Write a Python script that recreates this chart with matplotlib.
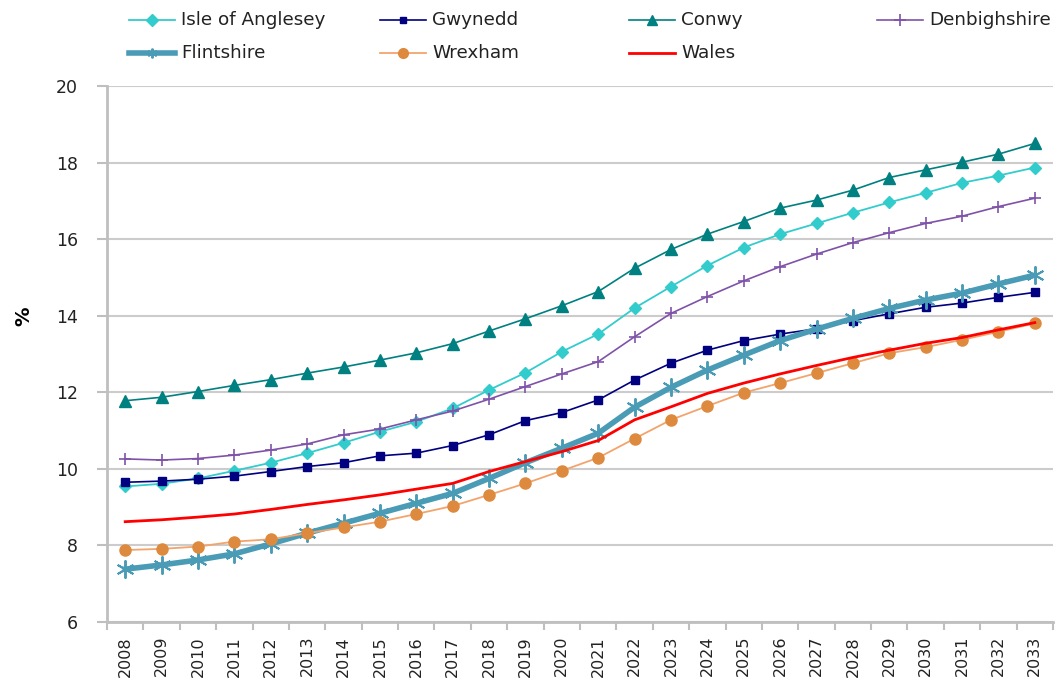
import matplotlib
matplotlib.use("Agg")
import matplotlib.pyplot as plt
from matplotlib.lines import Line2D
import numpy as np

years = [str(y) for y in range(2008, 2034)]

anglesey = [9.54, 9.61, 9.75, 9.95, 10.16, 10.41, 10.68, 10.97, 11.23, 11.58, 12.06, 12.51, 13.06,
            13.52, 14.20, 14.76, 15.31, 15.78, 16.13, 16.41, 16.69, 16.96, 17.21, 17.47, 17.66, 17.87]
gwynedd = [9.65, 9.68, 9.73, 9.81, 9.93, 10.06, 10.16, 10.34, 10.41, 10.61, 10.89, 11.26, 11.47,
           11.80, 12.32, 12.76, 13.10, 13.35, 13.52, 13.66, 13.87, 14.05, 14.22, 14.33, 14.48, 14.61]
conwy = [11.78, 11.87, 12.02, 12.18, 12.33, 12.50, 12.66, 12.84, 13.03, 13.27, 13.60, 13.92, 14.26,
         14.63, 15.24, 15.73, 16.13, 16.46, 16.81, 17.02, 17.28, 17.61, 17.81, 18.01, 18.22, 18.50]
denbighshire = [10.26, 10.23, 10.27, 10.36, 10.49, 10.65, 10.89, 11.04, 11.28, 11.51, 11.82, 12.15, 12.48,
                12.80, 13.45, 14.06, 14.50, 14.91, 15.28, 15.61, 15.91, 16.17, 16.41, 16.60, 16.85, 17.07]
flintshire = [7.38, 7.49, 7.62, 7.78, 8.04, 8.32, 8.58, 8.84, 9.10, 9.36, 9.75, 10.16, 10.54,
              10.93, 11.61, 12.13, 12.58, 12.97, 13.35, 13.65, 13.93, 14.19, 14.41, 14.59, 14.83, 15.06]
wrexham = [7.88, 7.91, 7.97, 8.10, 8.16, 8.32, 8.47, 8.62, 8.82, 9.03, 9.32, 9.62, 9.95,
           10.29, 10.79, 11.28, 11.64, 11.99, 12.24, 12.50, 12.76, 13.02, 13.18, 13.37, 13.58, 13.80]
wales = [8.62, 8.67, 8.74, 8.82, 8.94, 9.07, 9.19, 9.32, 9.47, 9.62, 9.93, 10.19, 10.45,
         10.74, 11.28, 11.62, 11.97, 12.24, 12.48, 12.70, 12.91, 13.10, 13.28, 13.43, 13.63, 13.82]

series = [
    ("Isle of Anglesey", anglesey, dict(color="#33CCCC", lw=1.3, marker="D", ms=6.5, mfc="#33CCCC", mec="#33CCCC")),
    ("Gwynedd", gwynedd, dict(color="#000080", lw=1.2, marker="s", ms=5.5, mfc="#000080", mec="#000080")),
    ("Conwy", conwy, dict(color="#008080", lw=1.2, marker="^", ms=8, mfc="#008080", mec="#008080")),
    ("Denbighshire", denbighshire, dict(color="#7F52A8", lw=1.2, marker="+", ms=9, mew=1.2, mec="#7F52A8")),
    ("Flintshire", flintshire, dict(color="#4A9BB5", lw=4.0, marker=(6, 2, 0), ms=13, mew=1.4, mec="#4A9BB5")),
    ("Wrexham", wrexham, dict(color="#F2A46C", lw=1.3, marker="o", ms=8, mfc="#DE8A3E", mec="#DE8A3E")),
    ("Wales", wales, dict(color="#FF0000", lw=2.0)),
]
legend_style = {
    "Isle of Anglesey": dict(ms=6), "Gwynedd": dict(ms=5), "Conwy": dict(ms=7),
    "Denbighshire": dict(ms=9), "Flintshire": dict(ms=7), "Wrexham": dict(ms=7), "Wales": dict(),
}

fig = plt.figure(figsize=(10.58, 6.9), dpi=100)
ax = fig.add_axes([107/1058, 1 - 622/690, (1053-107)/1058, (622-86)/690])

x = np.arange(len(years))
for name, vals, st in series:
    ax.plot(x, vals, label=name, zorder=3, **st)

ax.set_xlim(-0.5, len(years) - 0.5)
ax.set_ylim(6, 20)
ax.set_yticks(np.arange(6, 21, 2))
ax.set_yticklabels([str(v) for v in range(6, 21, 2)], fontsize=12.5, color="#222222")
ax.set_xticks(x)
ax.set_xticklabels(years, rotation=90, fontsize=11.5, color="#222222")
ax.set_xticks(np.arange(-0.5, len(years), 1), minor=True)
ax.tick_params(axis="x", which="major", length=0, pad=10)
ax.tick_params(axis="x", which="minor", length=6, width=1.5, color="#BFBFBF", direction="out")
ax.tick_params(axis="y", length=7, width=1.5, color="#BFBFBF", direction="out", pad=14)

ax.grid(axis="y", color="#CCCCCC", lw=1.5)
ax.set_axisbelow(True)
for s in ["top", "right"]:
    ax.spines[s].set_visible(False)
for s in ["left", "bottom"]:
    ax.spines[s].set_color("#BFBFBF")
    ax.spines[s].set_linewidth(2)

ax.set_ylabel("%", fontsize=14, fontweight="bold")
ax.yaxis.set_label_coords(-0.078, 0.57)

# legend, laid out manually in figure pixels
leg_pos = [(129, 20), (380, 20), (629, 20), (877, 20), (129, 53), (380, 53), (629, 53)]
W, H = 1058, 690
for (name, vals, st), (px, py) in zip(series, leg_pos):
    xs = [px / W, (px + 23) / W, (px + 46) / W]
    ys = [1 - py / H] * 3
    st2 = dict(st)
    st2.update(legend_style[name])
    ln = Line2D(xs, ys, transform=fig.transFigure, markevery=[1], **st2)
    fig.add_artist(ln)
    fig.text((px + 52) / W, 1 - py / H, name, fontsize=13.2, va="center", ha="left", color="#222222")

fig.savefig("out.png", dpi=100)
